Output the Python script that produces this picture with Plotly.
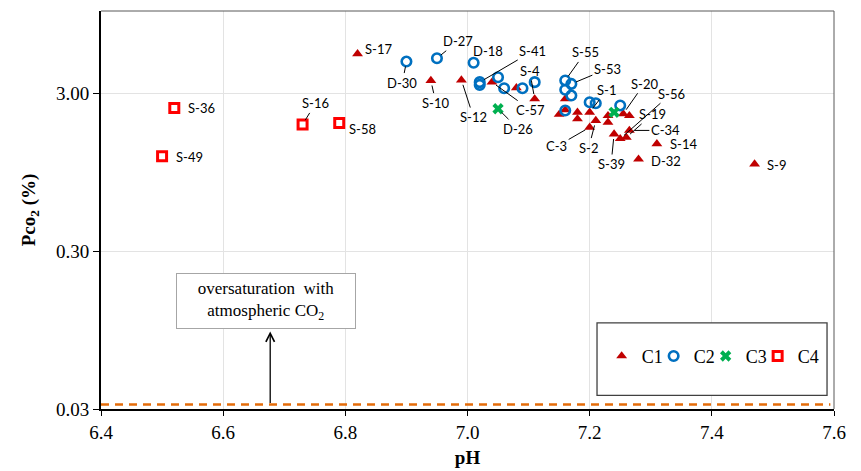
import math
import plotly.graph_objects as go

# ---- data: pH vs CO2 partial pressure (%) for four water groups ----
c1_names = ["S-17", "S-10", "S-12", "C-57", "", "S-4", "", "", "", "", "S-1", "C-3", "S-2",
            "", "", "S-20", "", "S-39", "S-56", "S-19", "C-34", "S-14", "D-32", "S-9", ""]
c1_ph = [6.82, 6.94, 6.99, 7.04, 7.08, 7.11, 7.16, 7.15, 7.18, 7.18, 7.20, 7.20, 7.21,
         7.23, 7.23, 7.255, 7.265, 7.24, 7.25, 7.26, 7.265, 7.31, 7.28, 7.47, 7.16]
c1_pco2 = [5.35, 3.62, 3.65, 3.54, 3.26, 2.77, 2.77, 2.21, 2.28, 2.07, 2.28, 1.83, 2.02,
           2.17, 1.97, 2.23, 2.17, 1.66, 1.55, 1.58, 1.75, 1.44, 1.15, 1.07, 2.36]

c2_names = ["D-30", "D-27", "D-18", "S-41", "", "", "", "", "", "S-55", "S-53",
            "", "", "", "", "", ""]
c2_ph = [6.90, 6.95, 7.01, 7.02, 7.02, 7.05, 7.06, 7.09, 7.11, 7.16, 7.17,
         7.16, 7.17, 7.16, 7.20, 7.21, 7.25]
c2_pco2 = [4.78, 5.02, 4.70, 3.54, 3.40, 3.80, 3.24, 3.24, 3.54, 3.63, 3.45,
           3.17, 2.91, 2.34, 2.64, 2.60, 2.52]

c3_names = ["D-26", ""]
c3_ph = [7.05, 7.24]
c3_pco2 = [2.40, 2.28]

c4_names = ["S-36", "S-49", "S-16", "S-58"]
c4_ph = [6.52, 6.50, 6.73, 6.79]
c4_pco2 = [2.43, 1.20, 1.91, 1.95]

# atmospheric CO2 level (%)
atm_pco2 = 0.032

x_ticks = [6.4, 6.6, 6.8, 7.0, 7.2, 7.4, 7.6]
y_ticks = [0.03, 0.30, 3.00]
y_tick_labels = ["0.03", "0.30", "3.00"]

# ---- label placement: text offset in px from the point, with/without leader ----
label_style = {
    "S-17": (21, -5, False), "S-10": (5, 22, True), "S-12": (12, 37, True),
    "C-57": (39, 28, True), "S-4": (-5, -28, True), "S-1": (17, -22, True),
    "C-3": (-33, 19, True), "S-2": (-7, 27, True), "S-20": (21, -30, True),
    "S-39": (-3, 30, True), "S-56": (51, -45, True), "S-19": (26, -23, True),
    "C-34": (36, 0, True), "S-14": (27, 0, False), "D-32": (27, 2, False),
    "S-9": (22, 1, False), "D-30": (-4, 21, True), "D-27": (21, -17, True),
    "D-18": (14, -12, False), "S-41": (53, -31, True), "S-55": (20, -28, True),
    "S-53": (36, -15, True), "D-26": (20, 20, True), "S-36": (27, 0, False),
    "S-49": (27, 1, False), "S-16": (13, -21, True), "S-58": (23, 6, False),
}

SERIF = "Liberation Serif"
LABEL_FONT = dict(family="Lato", size=13, color="#000000")

fig = go.Figure()

# atmospheric CO2 reference line
fig.add_trace(go.Scatter(
    x=[x_ticks[0], x_ticks[-1] - 0.006], y=[atm_pco2, atm_pco2], mode="lines",
    line=dict(color="#E46C0A", width=2.5, dash="8px,6px"),
    showlegend=False, hoverinfo="skip"))

groups = [
    ("C1", c1_names, c1_ph, c1_pco2,
     dict(symbol="triangle-up", size=9.5, color="#C00000", line=dict(width=0))),
    ("C2", c2_names, c2_ph, c2_pco2,
     dict(symbol="circle-open", size=9.5, color="#0070C0", line=dict(width=2.6))),
    ("C3", c3_names, c3_ph, c3_pco2,
     dict(symbol="x", size=10, color="#00B050", line=dict(width=0))),
    ("C4", c4_names, c4_ph, c4_pco2,
     dict(symbol="square-open", size=9, color="#FF0000", line=dict(width=3))),
]

annotations = []
for name, names, ph, pco2, marker in groups:
    fig.add_trace(go.Scatter(x=ph, y=pco2, mode="markers", name=name,
                             marker=marker, text=names, hoverinfo="text+x+y"))
    for lab, xv, yv in zip(names, ph, pco2):
        if not lab:
            continue
        ax, ay, leader = label_style[lab]
        annotations.append(dict(
            x=xv, y=math.log10(yv), xref="x", yref="y", text=lab,
            showarrow=True, ax=ax, ay=ay, axref="pixel", ayref="pixel",
            arrowhead=0, arrowwidth=1 if leader else 0.1,
            arrowcolor="#000000" if leader else "rgba(0,0,0,0)",
            standoff=5 if leader else 0, font=LABEL_FONT))

# invisible spacer entry so the last legend label keeps its full width
fig.add_trace(go.Scatter(x=c4_ph[:1], y=c4_pco2[:1], mode="markers", name=" ",
                         marker=dict(opacity=0, color="rgba(0,0,0,0)"),
                         hoverinfo="skip"))

# explanatory box and arrow pointing up from the atmospheric line
annotations.append(dict(
    x=0.2251, y=0.2705, xref="paper", yref="paper", xanchor="center", yanchor="middle",
    showarrow=False,
    text="oversaturation  with<br>atmospheric CO<sub>2</sub>",
    font=dict(family=SERIF, size=17, color="#000000"),
    bgcolor="#FFFFFF", bordercolor="#A6A6A6", borderwidth=1, borderpad=3,
    width=172, height=48, align="center"))
annotations.append(dict(
    x=6.677, y=math.log10(0.093), xref="x", yref="y",
    ax=6.677, ay=math.log10(atm_pco2), axref="x", ayref="y",
    text="", showarrow=True, arrowhead=5, arrowsize=1.3, arrowwidth=1.3,
    arrowcolor="#000000"))

shapes = [
    # legend frame
    dict(type="rect", xref="paper", yref="paper", x0=0.6767, x1=0.9905,
         y0=0.034, y1=0.2165, line=dict(color="#404040", width=1.3),
         fillcolor="#FFFFFF", layer="above"),
    # plot-area frame (top and right)
    dict(type="line", xref="paper", yref="paper", x0=0, x1=1, y0=1, y1=1,
         line=dict(color="#595959", width=1)),
    dict(type="line", xref="paper", yref="paper", x0=1, x1=1, y0=0, y1=1,
         line=dict(color="#595959", width=1)),
]

fig.update_layout(
    width=861, height=471,
    margin=dict(l=101, r=27, t=11, b=62, autoexpand=False),
    paper_bgcolor="#FFFFFF", plot_bgcolor="#FFFFFF",
    font=dict(family=SERIF, size=19, color="#000000"),
    annotations=annotations, shapes=shapes,
    legend=dict(orientation="h", x=0.683, y=0.1325, xanchor="left", yanchor="middle",
                bgcolor="rgba(0,0,0,0)", itemwidth=30, entrywidth=7,
                font=dict(family=SERIF, size=18, color="#000000")),
    xaxis=dict(range=[x_ticks[0], x_ticks[-1]], tickvals=x_ticks, tickformat=".1f",
               showgrid=True, gridcolor="#E3E3E3", gridwidth=1, automargin=False,
               showline=True, linecolor="#000000", linewidth=2,
               ticks="outside", ticklen=5, tickcolor="#000000", tickwidth=1.3,
               tickfont=dict(family=SERIF, size=19), zeroline=False,
               title=dict(text="<b>pH</b>", font=dict(family=SERIF, size=19), standoff=9)),
    yaxis=dict(type="log", range=[math.log10(0.03), 1.0],
               tickvals=y_ticks, ticktext=y_tick_labels, automargin=False,
               showgrid=True, gridcolor="#E3E3E3", gridwidth=1,
               showline=True, linecolor="#000000", linewidth=2,
               ticks="outside", ticklen=6, tickcolor="#000000", tickwidth=1.3,
               tickfont=dict(family=SERIF, size=19), zeroline=False,
               title=dict(text="<b>Pco<sub>2</sub> (%)</b>",
                          font=dict(family=SERIF, size=19), standoff=15)),
)

fig.write_html("out.html")
